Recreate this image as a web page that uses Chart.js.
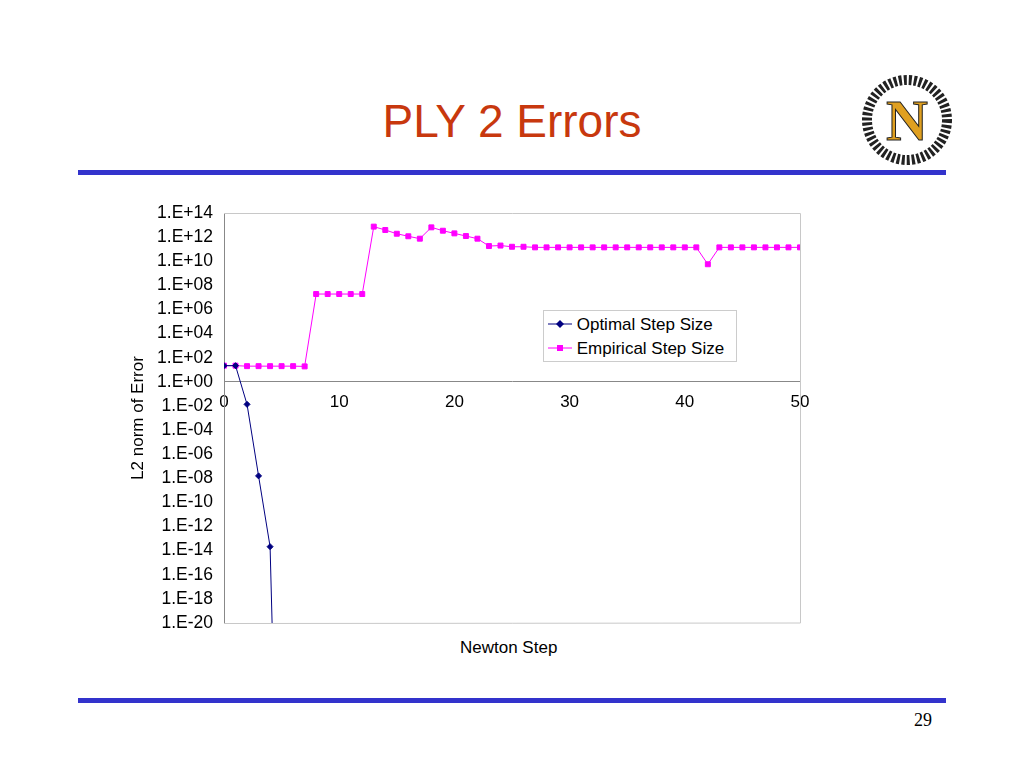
<!DOCTYPE html><html><head><meta charset="utf-8">
<script src="https://cdn.jsdelivr.net/npm/chart.js@4"></script>
<style>
body{margin:0;width:1024px;height:768px;position:relative;background:#fff;font-family:"Liberation Sans",Arial,sans-serif;overflow:hidden}
#c{position:absolute;left:0;top:0}
.rule{position:absolute;left:78px;width:868px;height:5px;background:#3333cc}
</style></head><body>
<div style="position:absolute;left:0;width:1024px;top:94px;text-align:center;font-size:46px;color:#c8380e">PLY 2 Errors</div>
<div class="rule" style="top:170px"></div>
<div class="rule" style="top:698px"></div>
<svg style="position:absolute;left:862px;top:74px" width="90" height="92"><circle cx="45" cy="46" r="40" fill="none" stroke="#222" stroke-width="10" stroke-dasharray="3 2"/><text x="45" y="66" text-anchor="middle" font-size="58" font-family="Liberation Serif" font-weight="bold" fill="#e0a020" stroke="#222">N</text></svg>
<div style="position:absolute;left:460px;top:638px;font-size:17px">Newton Step</div>
<div style="position:absolute;left:914px;top:710px;font-size:18px;font-family:'Liberation Serif'">29</div>
<div style="position:absolute;left:543px;top:310px;width:192px;height:50px;border:1px solid #ccc;background:#fff;font-size:17px;line-height:24px">
<div style="position:absolute;left:4px;top:2px"><svg width="24" height="12"><line x1="0" y1="6" x2="24" y2="6" stroke="#000080"/><path d="M12 2L16 6L12 10L8 6Z" fill="#000080"/></svg> Optimal Step Size</div>
<div style="position:absolute;left:4px;top:26px"><svg width="24" height="12"><line x1="0" y1="6" x2="24" y2="6" stroke="#ff00ff"/><rect x="9" y="3" width="6" height="6" fill="#ff00ff"/></svg> Empirical Step Size</div>
</div>
<canvas id="c" width="1024" height="768"></canvas>
<script>
const steps=[];for(let i=0;i<=50;i++)steps.push(i);
const optimalSteps=[0,1,2,3,4,5];
const optimalLog=[1.34,1.34,-1.87,-7.8,-13.67,-50];
const empiricalLog=[1.34,1.34,1.3,1.3,1.3,1.3,1.3,1.28,7.28,7.28,7.28,7.28,7.28,12.87,12.59,12.28,12.07,11.87,12.81,12.53,12.31,12.09,11.87,11.26,11.3,11.2,11.2,11.15,11.15,11.15,11.15,11.15,11.15,11.15,11.15,11.15,11.15,11.15,11.15,11.15,11.15,11.15,9.75,11.15,11.15,11.15,11.15,11.15,11.15,11.15,11.15];
const yTickExps=[];for(let e=-20;e<=14;e+=2)yTickExps.push(e);
const frame={id:'frame',afterDraw(c){const a=c.chartArea,x=c.ctx;x.save();x.strokeStyle='#c8c8c8';x.lineWidth=1;x.beginPath();x.moveTo(a.left,a.top+.5);x.lineTo(a.right+.5,a.top+.5);x.lineTo(a.right+.5,a.bottom);x.lineTo(a.left,a.bottom+.5);x.stroke();x.restore();}};
new Chart(document.getElementById('c'),{type:'line',
data:{datasets:[
{label:'Optimal Step Size',data:optimalSteps.map((s,i)=>({x:s,y:Math.pow(10,optimalLog[i])})),borderColor:'#000080',backgroundColor:'#000080',borderWidth:1,pointStyle:'rectRot',pointRadius:3,tension:0},
{label:'Empirical Step Size',data:steps.map((s,i)=>({x:s,y:Math.pow(10,empiricalLog[i])})),borderColor:'#ff00ff',backgroundColor:'#ff00ff',borderWidth:1,pointStyle:'rect',pointRadius:3.5,tension:0}]},
options:{responsive:false,animation:false,layout:{padding:{left:128,right:224,top:213,bottom:145}},
plugins:{legend:{display:false},tooltip:{enabled:false}},
scales:{
x:{type:'linear',min:0,max:50,position:{y:1},grid:{display:false,drawTicks:true},border:{color:'#888'},
 ticks:{stepSize:10,color:'#000',font:{size:17,family:'Liberation Sans'},padding:2}},
y:{type:'logarithmic',min:1e-20,max:1e14,grid:{display:false},border:{color:'#888'},
 afterBuildTicks(s){s.ticks=yTickExps.map(e=>({value:Math.pow(10,e)}));},
 afterFit(s){s.width=96;},
 ticks:{color:'#000',font:{size:17.5,family:'Liberation Sans'},padding:3,autoSkip:false,callback(v){const e=Math.round(Math.log10(v));return '1.E'+(e<0?'-':'+')+String(Math.abs(e)).padStart(2,'0');}},
 title:{display:true,text:'L2 norm of Error',color:'#000',font:{size:17,family:'Liberation Sans'},padding:0}}}},
plugins:[frame]});
</script></body></html>
